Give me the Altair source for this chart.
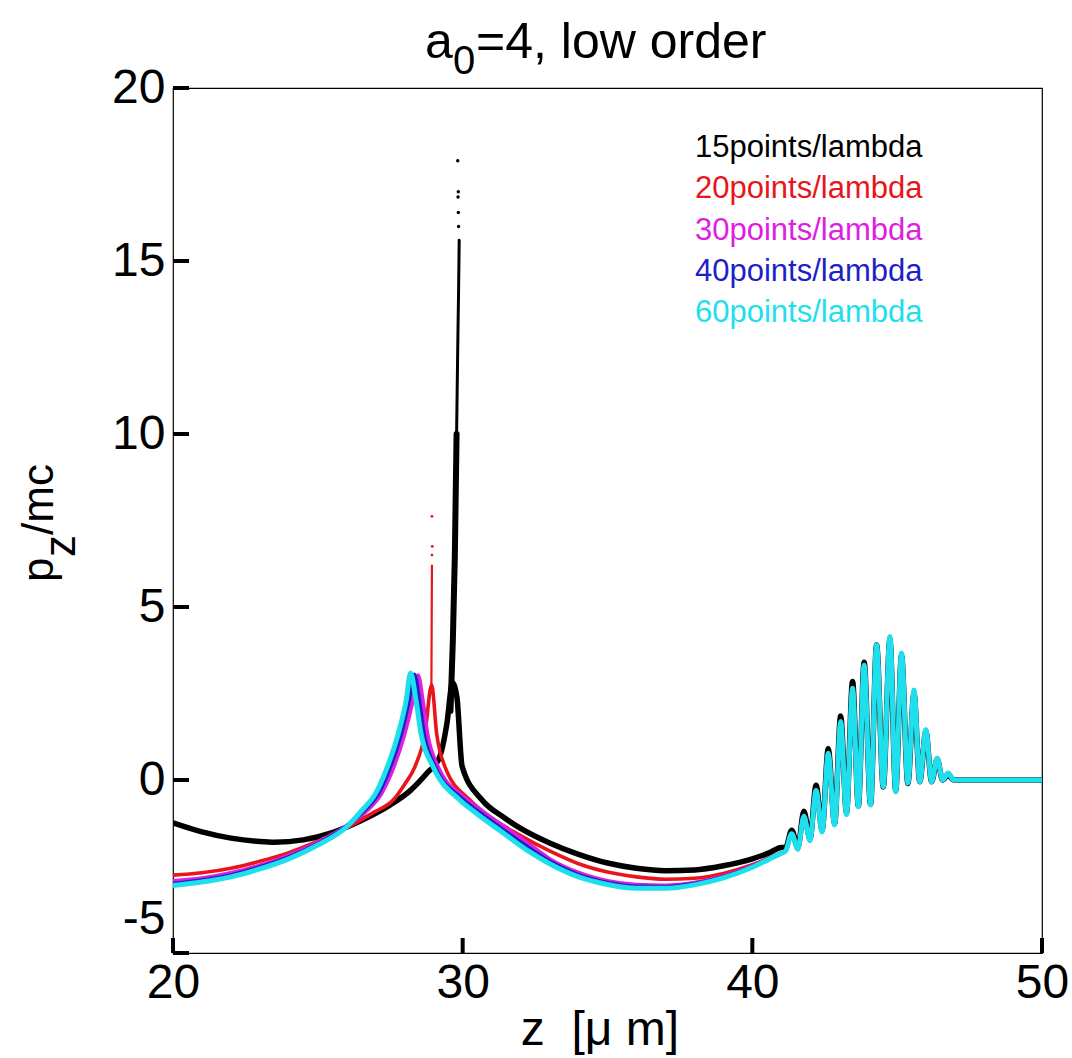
import altair as alt
import pandas as pd

FONT = "Liberation Sans, Arial, Helvetica, sans-serif"

# ---- series data: z [um] and p_z/mc for each grid resolution ----
TAIL_Z = [41.15, 41.36, 41.57, 41.78, 41.99, 42.2, 42.41, 42.62, 42.84, 43.05, 43.25,
          43.46, 43.66, 43.86, 44.08, 44.29, 44.52, 44.75, 44.95, 45.15, 45.37, 45.58,
          45.78, 45.99, 46.19, 46.38, 46.57, 46.76, 46.95, 47.3, 48.5, 50.0]
TAIL_P = [-2.05, -1.55, -2.0, -1.05, -1.75, -0.3, -1.5, 0.77, -1.3, 1.69, -1.0,
          2.65, -0.77, 3.32, -0.72, 3.90, -0.19, 4.14, -0.34, 3.66, -0.09, 2.60,
          -0.05, 1.45, -0.05, 0.63, 0.0, 0.20, 0.0, 0.0, 0.0, 0.0]

BLACK_TAIL_P = [-1.95, -1.45, -1.95, -0.9, -1.7, -0.15, -1.45, 0.9, -1.25, 1.85, -0.95,
                2.85, -0.75, 3.4, -0.7, 3.9, -0.2, 4.05, -0.3, 3.6, -0.1, 2.5,
                -0.05, 1.4, -0.05, 0.6, 0.0, 0.15, 0.0, 0.0, 0.0, 0.0]

BLACK_Z = [20.0, 21.0, 22.0, 23.0, 23.5, 24.5, 25.5, 26.5, 27.5, 28.2, 28.77, 29.2, 29.45,
           29.65, 29.8, 29.98, 30.67, 31.4, 32.0, 33.0, 34.0, 35.0, 36.0, 37.0, 38.0,
           39.0, 40.0, 40.6, 41.0]
BLACK_P = [-1.24, -1.5, -1.68, -1.78, -1.8, -1.73, -1.52, -1.17, -0.72, -0.3, 0.2, 0.65, 1.6,
           2.8, 2.4, 0.4, -0.58, -1.07, -1.4, -1.82, -2.15, -2.4, -2.55, -2.62, -2.6,
           -2.48, -2.28, -2.1, -1.95]

RED_Z = [20.0, 21.0, 22.0, 23.0, 24.0, 25.0, 26.0, 26.9, 27.6, 28.0, 28.35, 28.7, 28.93,
         29.1, 29.39, 30.25, 31.0, 31.87, 33.0, 34.0, 35.0, 36.0, 37.0, 38.0, 39.0, 40.0,
         40.6, 41.0]
RED_P = [-2.75, -2.68, -2.55, -2.35, -2.1, -1.77, -1.38, -0.95, -0.58, -0.12, 0.38, 1.35, 2.75,
         1.35, 0.38, -0.58, -1.1, -1.55, -2.05, -2.42, -2.66, -2.8, -2.87, -2.84, -2.7, -2.45,
         -2.25, -2.1]

MAG_Z = [20.0, 21.0, 22.0, 23.0, 24.0, 25.0, 26.0, 26.7, 27.2, 27.62, 28.0, 28.28, 28.46,
         28.62, 28.78, 29.15, 30.05, 30.7, 31.6, 32.45, 33.0, 34.0, 35.0, 36.0, 37.0, 38.0,
         39.0, 40.0, 40.6, 41.0]
MAG_P = [-2.92, -2.84, -2.69, -2.47, -2.18, -1.8, -1.32, -0.88, -0.38, 0.38, 1.35, 2.3, 3.03,
         2.3, 1.35, 0.38, -0.5, -0.92, -1.45, -1.95, -2.28, -2.68, -2.92, -3.03, -3.05, -2.97,
         -2.78, -2.48, -2.26, -2.12]

BLUE_Z = [20.0, 21.0, 22.0, 23.0, 24.0, 25.0, 26.0, 26.6, 27.1, 27.5, 27.88, 28.15, 28.33,
          28.5, 28.66, 29.05, 29.95, 30.6, 31.5, 32.35, 33.0, 34.0, 35.0, 36.0, 37.0, 38.0,
          39.0, 40.0, 40.6, 41.0]
BLUE_P = [-3.0, -2.9, -2.75, -2.52, -2.23, -1.84, -1.33, -0.88, -0.38, 0.38, 1.35, 2.3, 3.05,
          2.3, 1.35, 0.38, -0.52, -0.95, -1.5, -2.0, -2.35, -2.74, -2.97, -3.08, -3.09, -3.0,
          -2.8, -2.5, -2.27, -2.12]

CYAN_Z = [20.0, 21.0, 22.0, 23.0, 24.0, 25.0, 26.0, 26.52, 27.0, 27.4, 27.78, 28.05, 28.2,
          28.39, 28.56, 28.98, 29.9, 30.5, 31.4, 32.26, 33.0, 34.0, 35.0, 36.0, 37.0, 38.0,
          39.0, 40.0, 40.6, 41.0]
CYAN_P = [-3.05, -2.95, -2.8, -2.57, -2.28, -1.88, -1.35, -0.88, -0.38, 0.38, 1.35, 2.3, 3.09,
          2.3, 1.35, 0.38, -0.58, -0.98, -1.53, -2.05, -2.42, -2.8, -3.02, -3.13, -3.13, -3.03,
          -2.83, -2.52, -2.28, -2.12]

# narrow high-momentum spikes of the coarse grids
BLACK_SPIKE_LOW_Z = [29.58, 29.66, 29.73, 29.79]
BLACK_SPIKE_LOW_P = [2.0, 4.0, 6.5, 10.0]
BLACK_SPIKE_HIGH_Z = [29.79, 29.83, 29.86, 29.88]
BLACK_SPIKE_HIGH_P = [10.0, 12.5, 14.2, 15.6]
BLACK_DOTS_Z = [29.86, 29.85, 29.84, 29.85, 29.83]
BLACK_DOTS_P = [16.0, 16.4, 16.85, 17.0, 17.9]
RED_SPIKE_Z = [28.92, 28.93, 28.94]
RED_SPIKE_P = [2.6, 4.5, 6.2]
RED_DOTS_Z = [28.94, 28.95, 28.94]
RED_DOTS_P = [6.5, 6.75, 7.62]

LABELS = ["15points/lambda", "20points/lambda", "30points/lambda",
          "40points/lambda", "60points/lambda"]
COLORS = ["#000000", "#e8161b", "#dc1fe0", "#1f1fc8", "#1ee0ec"]
WIDTHS = [5.5, 3.6, 4.0, 4.0, 5.0]

X_TICKS = [20, 30, 40, 50]
Y_TICKS = [-5, 0, 5, 10, 15, 20]

W, H = 869, 865

xs = alt.Scale(domain=[20, 50], nice=False, zero=False)
ys = alt.Scale(domain=[-5, 20], nice=False, zero=False)
x_axis = alt.Axis(values=X_TICKS, ticks=False, domain=False, grid=False, title=None,
                  labelFontSize=48, labelFont=FONT, labelColor="black",
                  labelPadding=6, labelFlush=False, labelOverlap=False,
                  labelExpr="'' + datum.value")
y_axis = alt.Axis(values=Y_TICKS, ticks=False, domain=False, grid=False, title=None,
                  labelFontSize=48, labelFont=FONT, labelColor="black",
                  labelPadding=8, labelOverlap=False,
                  labelExpr="'' + datum.value",
                  labelOffset={"expr": "datum.value == -5 ? -34 : 0"})


def frame(zv, pv):
    return pd.DataFrame({"z": zv, "p": pv, "i": list(range(len(zv)))})


def curve(zv, pv, color, width, interp="monotone"):
    return alt.Chart(frame(zv, pv)).mark_line(
        color=color, strokeWidth=width, interpolate=interp, clip=True,
        strokeJoin="round", strokeCap="round"
    ).encode(
        x=alt.X("z:Q", scale=xs, axis=x_axis),
        y=alt.Y("p:Q", scale=ys, axis=y_axis),
        order="i:Q",
    )


def dots(zv, pv, color, size):
    return alt.Chart(frame(zv, pv)).mark_circle(color=color, size=size, opacity=1).encode(
        x=alt.X("z:Q", scale=xs), y=alt.Y("p:Q", scale=ys))


layers = [
    curve(BLACK_Z + TAIL_Z, BLACK_P + BLACK_TAIL_P, COLORS[0], WIDTHS[0]),
    curve(BLACK_SPIKE_LOW_Z, BLACK_SPIKE_LOW_P, COLORS[0], 6.0, "linear"),
    curve(BLACK_SPIKE_HIGH_Z, BLACK_SPIKE_HIGH_P, COLORS[0], 3.0, "linear"),
    dots(BLACK_DOTS_Z, BLACK_DOTS_P, COLORS[0], 12),
    curve(RED_Z + TAIL_Z, RED_P + TAIL_P, COLORS[1], WIDTHS[1]),
    curve(RED_SPIKE_Z, RED_SPIKE_P, COLORS[1], 2.2, "linear"),
    dots(RED_DOTS_Z, RED_DOTS_P, COLORS[1], 8),
    curve(MAG_Z + TAIL_Z, MAG_P + TAIL_P, COLORS[2], WIDTHS[2]),
    curve(BLUE_Z + TAIL_Z, BLUE_P + TAIL_P, COLORS[3], WIDTHS[3]),
    curve(CYAN_Z + TAIL_Z, CYAN_P + TAIL_P, COLORS[4], WIDTHS[4]),
]

# inward tick marks
xt = alt.Chart(pd.DataFrame({"v": X_TICKS})).mark_rule(color="black", strokeWidth=4).encode(
    x=alt.X("v:Q", scale=xs), y=alt.value(H), y2=alt.value(H - 15))
yt = alt.Chart(pd.DataFrame({"v": Y_TICKS})).mark_rule(color="black", strokeWidth=4).encode(
    y=alt.Y("v:Q", scale=ys), x=alt.value(0), x2=alt.value(16))

# series key, one coloured line per grid resolution
key = alt.Chart(pd.DataFrame({"label": LABELS, "color": COLORS, "row": list(range(5))})
                ).transform_calculate(py="69 + datum.row * 41.3").mark_text(
    align="left", baseline="alphabetic", fontSize=31, font=FONT
).encode(
    x=alt.value(522),
    y=alt.Y("py:Q", scale=None, axis=None),
    text="label:N",
    color=alt.Color("color:N", scale=None, legend=None),
)


def txt(s, x, y, size, angle=0):
    kw = dict(align="left", baseline="alphabetic", fontSize=size, font=FONT, color="black")
    if angle:
        kw["angle"] = angle
    return alt.Chart(pd.DataFrame({"t": [s]})).mark_text(**kw).encode(
        x=alt.value(x), y=alt.value(y), text="t:N")


# title a_0=4, low order
title = [
    txt("a", 252, -30, 50),
    txt("0", 280, -14, 40),
    txt("=4, low order", 303, -30, 50),
]
# axis titles
xlabel = alt.Chart(pd.DataFrame({"t": ["z\u00a0\u00a0[\u03bc\u00a0m]"]})).mark_text(
    align="center", baseline="alphabetic", fontSize=48, font=FONT, color="black"
).encode(x=alt.value(427), y=alt.value(957), text="t:N")
ylabel = [
    txt("p", -120, 494, 44, 270),
    txt("z", -98, 469, 44, 270),
    txt("/mc", -120, 447, 44, 270),
]

chart = alt.layer(*layers, xt, yt, key, *title, xlabel, *ylabel).properties(
    width=W, height=H,
    autosize=alt.AutoSizeParams(type="none"),
    padding={"left": 173, "top": 88, "right": 30, "bottom": 105},
    background="white",
).configure_view(stroke="black", strokeWidth=1.2)

chart.save("out.html", embed_options={"renderer": "svg", "actions": False})
